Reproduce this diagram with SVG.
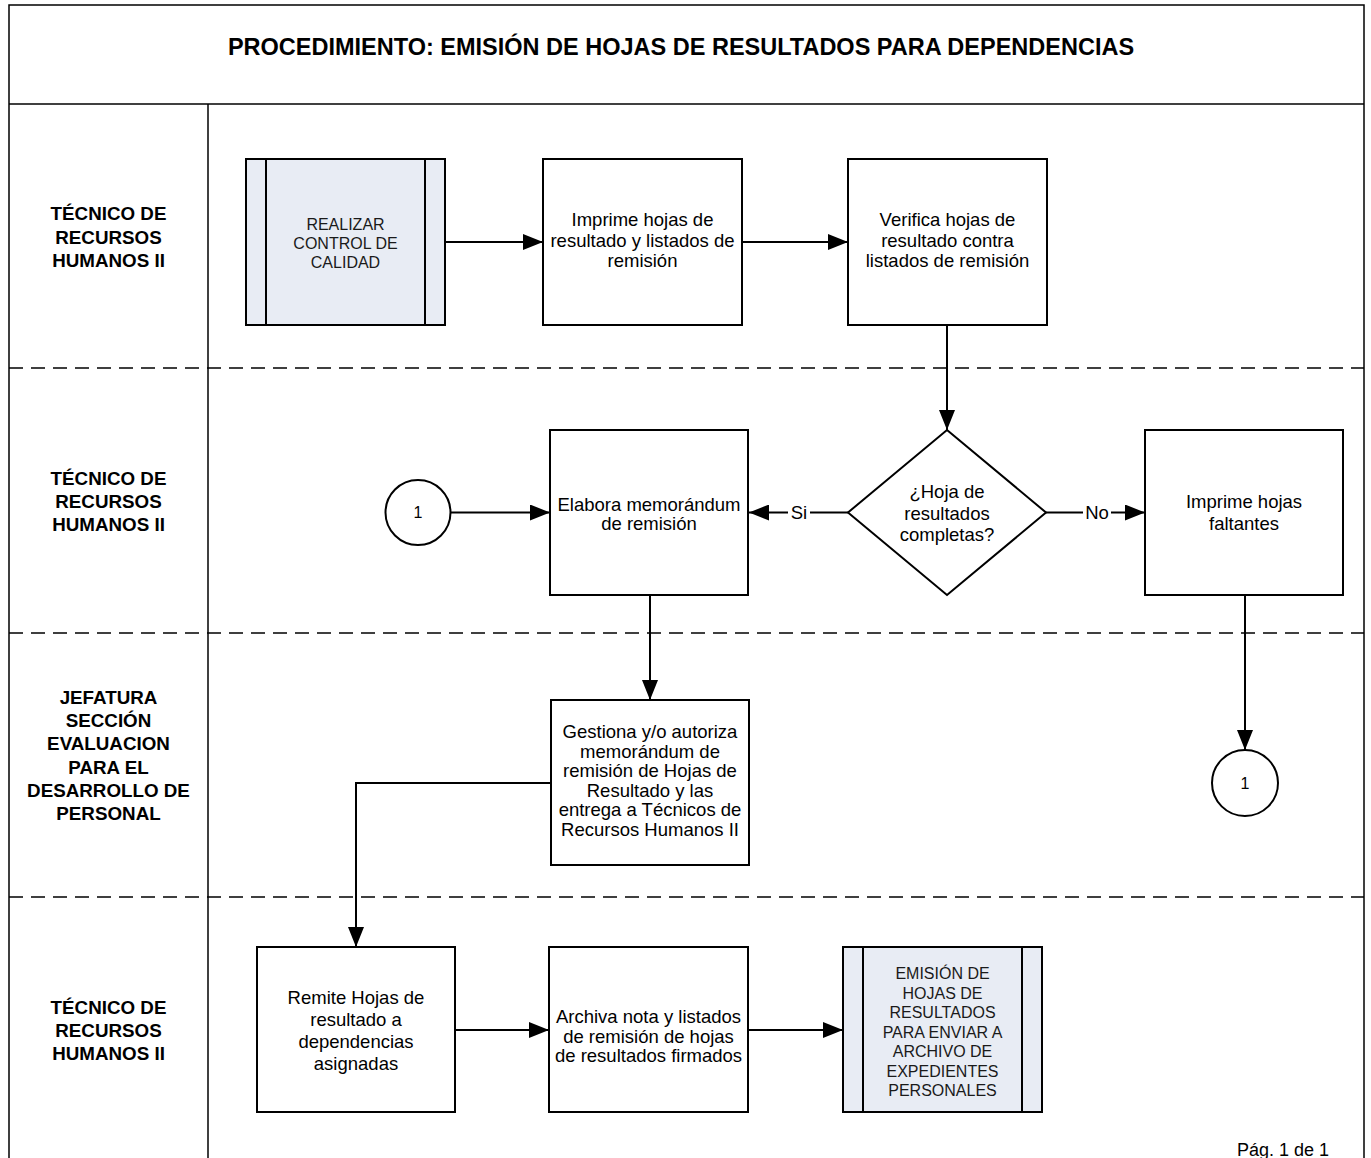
<svg xmlns="http://www.w3.org/2000/svg" width="1371" height="1158" viewBox="0 0 1371 1158">
<style>
.frame{fill:none;stroke:#000;stroke-width:1.5}
.div{fill:none;stroke:#000;stroke-width:1.5;stroke-dasharray:14 8}
.box{fill:#fff;stroke:#000;stroke-width:2}
.sub{fill:#E8ECF4;stroke:#000;stroke-width:2}
.con{fill:none;stroke:#000;stroke-width:2}
text{font-family:"Liberation Sans",Arial,sans-serif;fill:#000}
.title{font-size:23.5px;font-weight:bold}
.lane{font-size:18.8px;font-weight:bold}
.t{font-size:18.5px}
.s{font-size:16px;fill:#1a1a1a}
.lbl{font-size:18.5px}
.pg{font-size:18px}
</style>
<defs>
<marker id="arr" markerUnits="userSpaceOnUse" markerWidth="20" markerHeight="16" refX="20" refY="8" orient="auto">
<path d="M0,0 L20,8 L0,16 z" fill="#000"/>
</marker>
</defs>
<rect width="1371" height="1158" fill="#fff"/>
<g id="frame">
<rect class="frame" x="9" y="5" width="1355" height="1160"/>
<line class="frame" x1="9" y1="104" x2="1364" y2="104"/>
<line class="frame" x1="208" y1="104" x2="208" y2="1160"/>
<line class="div" x1="9" y1="368" x2="1364" y2="368"/>
<line class="div" x1="9" y1="633" x2="1364" y2="633"/>
<line class="div" x1="9" y1="897" x2="1364" y2="897"/>
<text class="title" x="681" y="55" text-anchor="middle">PROCEDIMIENTO: EMISIÓN DE HOJAS DE RESULTADOS PARA DEPENDENCIAS</text>
<text class="pg" x="1329" y="1156" text-anchor="end">Pág. 1 de 1</text>
</g>
<g id="lanes" text-anchor="middle">
<text class="lane" x="108.5"><tspan x="108.5" y="220">TÉCNICO DE</tspan><tspan x="108.5" y="243.5">RECURSOS</tspan><tspan x="108.5" y="267">HUMANOS II</tspan></text>
<text class="lane" x="108.5"><tspan x="108.5" y="484.5">TÉCNICO DE</tspan><tspan x="108.5" y="508">RECURSOS</tspan><tspan x="108.5" y="531">HUMANOS II</tspan></text>
<text class="lane" x="108.5"><tspan x="108.5" y="703.5">JEFATURA</tspan><tspan x="108.5" y="727">SECCIÓN</tspan><tspan x="108.5" y="750">EVALUACION</tspan><tspan x="108.5" y="773.5">PARA EL</tspan><tspan x="108.5" y="797">DESARROLLO DE</tspan><tspan x="108.5" y="820">PERSONAL</tspan></text>
<text class="lane" x="108.5"><tspan x="108.5" y="1014">TÉCNICO DE</tspan><tspan x="108.5" y="1037">RECURSOS</tspan><tspan x="108.5" y="1060">HUMANOS II</tspan></text>
</g>
<g id="connectors">
<line class="con" x1="445" y1="242" x2="543" y2="242" marker-end="url(#arr)"/>
<line class="con" x1="742" y1="242" x2="848" y2="242" marker-end="url(#arr)"/>
<line class="con" x1="947" y1="325" x2="947" y2="430" marker-end="url(#arr)"/>
<line class="con" x1="848" y1="512.5" x2="749" y2="512.5" marker-end="url(#arr)"/>
<line class="con" x1="1046" y1="512.5" x2="1145" y2="512.5" marker-end="url(#arr)"/>
<line class="con" x1="451" y1="512.5" x2="550" y2="512.5" marker-end="url(#arr)"/>
<line class="con" x1="650" y1="595" x2="650" y2="700" marker-end="url(#arr)"/>
<line class="con" x1="1245" y1="595" x2="1245" y2="750" marker-end="url(#arr)"/>
<polyline class="con" points="551,783 356,783 356,947" marker-end="url(#arr)"/>
<line class="con" x1="456" y1="1030" x2="549" y2="1030" marker-end="url(#arr)"/>
<line class="con" x1="748" y1="1030" x2="843" y2="1030" marker-end="url(#arr)"/>
<rect x="788" y="502" width="22" height="20" fill="#fff"/>
<text class="lbl" x="799" y="519" text-anchor="middle">Si</text>
<rect x="1083" y="502" width="28" height="20" fill="#fff"/>
<text class="lbl" x="1097" y="519" text-anchor="middle">No</text>
</g>
<g id="n1">
<rect class="sub" x="246" y="159" width="199" height="166"/>
<line class="con" x1="266" y1="159" x2="266" y2="325"/>
<line class="con" x1="425" y1="159" x2="425" y2="325"/>
<text class="s" text-anchor="middle"><tspan x="345.5" y="229.5">REALIZAR</tspan><tspan x="345.5" y="249">CONTROL DE</tspan><tspan x="345.5" y="268">CALIDAD</tspan></text>
</g>
<g id="n2">
<rect class="box" x="543" y="159" width="199" height="166"/>
<text class="t" text-anchor="middle"><tspan x="642.5" y="226">Imprime hojas de</tspan><tspan x="642.5" y="246.5">resultado y listados de</tspan><tspan x="642.5" y="267">remisión</tspan></text>
</g>
<g id="n3">
<rect class="box" x="848" y="159" width="199" height="166"/>
<text class="t" text-anchor="middle"><tspan x="947.5" y="226">Verifica hojas de</tspan><tspan x="947.5" y="246.5">resultado contra</tspan><tspan x="947.5" y="267">listados de remisión</tspan></text>
</g>
<g id="n4">
<polygon class="box" points="947,430 1046,512.5 947,595 848,512.5"/>
<text class="t" text-anchor="middle"><tspan x="947" y="498">¿Hoja de</tspan><tspan x="947" y="519.5">resultados</tspan><tspan x="947" y="541">completas?</tspan></text>
</g>
<g id="n5">
<rect class="box" x="550" y="430" width="198" height="165"/>
<text class="t" text-anchor="middle"><tspan x="649" y="511">Elabora memorándum</tspan><tspan x="649" y="530">de remisión</tspan></text>
</g>
<g id="n6">
<rect class="box" x="1145" y="430" width="198" height="165"/>
<text class="t" text-anchor="middle"><tspan x="1244" y="508">Imprime hojas</tspan><tspan x="1244" y="529.5">faltantes</tspan></text>
</g>
<g id="n7">
<circle class="box" cx="418" cy="512.5" r="32.5"/>
<text class="s" x="418" y="518" text-anchor="middle" style="fill:#000">1</text>
</g>
<g id="n8">
<rect class="box" x="551" y="700" width="198" height="165"/>
<text class="t" text-anchor="middle"><tspan x="650" y="738">Gestiona y/o autoriza</tspan><tspan x="650" y="757.5">memorándum de</tspan><tspan x="650" y="777">remisión de Hojas de</tspan><tspan x="650" y="796.5">Resultado y las</tspan><tspan x="650" y="816">entrega a Técnicos de</tspan><tspan x="650" y="835.5">Recursos Humanos II</tspan></text>
</g>
<g id="n9">
<circle class="box" cx="1245" cy="783" r="33"/>
<text class="s" x="1245" y="789" text-anchor="middle" style="fill:#000">1</text>
</g>
<g id="n10">
<rect class="box" x="257" y="947" width="198" height="165"/>
<text class="t" text-anchor="middle"><tspan x="356" y="1004">Remite Hojas de</tspan><tspan x="356" y="1026">resultado a</tspan><tspan x="356" y="1048">dependencias</tspan><tspan x="356" y="1070">asignadas</tspan></text>
</g>
<g id="n11">
<rect class="box" x="549" y="947" width="199" height="165"/>
<text class="t" text-anchor="middle"><tspan x="648.5" y="1023">Archiva nota y listados</tspan><tspan x="648.5" y="1042.5">de remisión de hojas</tspan><tspan x="648.5" y="1062">de resultados firmados</tspan></text>
</g>
<g id="n12">
<rect class="sub" x="843" y="947" width="199" height="165"/>
<line class="con" x1="863" y1="947" x2="863" y2="1112"/>
<line class="con" x1="1022" y1="947" x2="1022" y2="1112"/>
<text class="s" text-anchor="middle"><tspan x="942.5" y="979">EMISIÓN DE</tspan><tspan x="942.5" y="998.5">HOJAS DE</tspan><tspan x="942.5" y="1018">RESULTADOS</tspan><tspan x="942.5" y="1037.5">PARA ENVIAR A</tspan><tspan x="942.5" y="1057">ARCHIVO DE</tspan><tspan x="942.5" y="1076.5">EXPEDIENTES</tspan><tspan x="942.5" y="1096">PERSONALES</tspan></text>
</g>
</svg>
